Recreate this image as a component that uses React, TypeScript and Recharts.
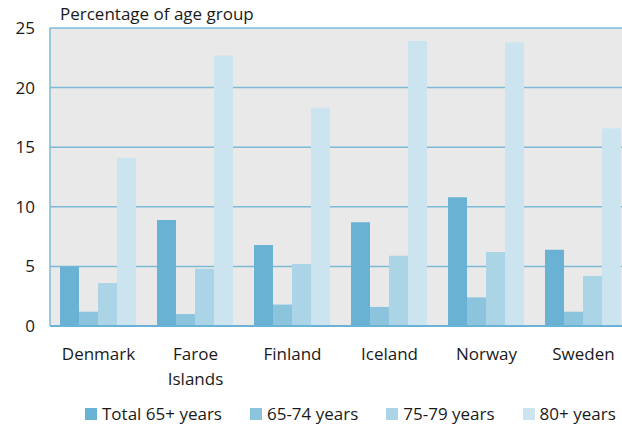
import { BarChart, Bar, XAxis, YAxis, CartesianGrid, Legend } from "recharts";

const COUNTRIES = ["Denmark", "Faroe Islands", "Finland", "Iceland", "Norway", "Sweden"];
const TOTAL_65 = [5.0, 8.9, 6.8, 8.7, 10.8, 6.4];
const AGE_65_74 = [1.2, 1.0, 1.8, 1.6, 2.4, 1.2];
const AGE_75_79 = [3.6, 4.8, 5.2, 5.9, 6.2, 4.2];
const AGE_80 = [14.1, 22.7, 18.3, 23.9, 23.8, 16.6];
const Y_TICKS = [0, 5, 10, 15, 20, 25];

const SERIES = [
  { key: "total", name: "Total 65+ years", color: "#69b2d4" },
  { key: "a6574", name: "65-74 years", color: "#8cc4de" },
  { key: "a7579", name: "75-79 years", color: "#abd4e7" },
  { key: "a80", name: "80+ years", color: "#cce4f0" },
];

const data = COUNTRIES.map((country, i) => ({
  country,
  total: TOTAL_65[i],
  a6574: AGE_65_74[i],
  a7579: AGE_75_79[i],
  a80: AGE_80[i],
}));

const FONT = "'Open Sans', Roboto, sans-serif";
const SIZE = 17;
const TEXT = "#1a1a1a";
const BLUE = "#7dbad8";

function CountryTick({ x, y, payload }: any) {
  const lines = String(payload.value).split(" ");
  return (
    <text x={x} y={y} textAnchor="middle" fill={TEXT} fontSize={SIZE} fontFamily={FONT}>
      {lines.map((l, i) => (
        <tspan key={l} x={x} dy={i === 0 ? 34 : 25}>{l}</tspan>
      ))}
    </text>
  );
}

function LegendBox() {
  return (
    <div style={{ display: "flex", gap: 28, marginLeft: 85, fontFamily: FONT, fontSize: SIZE, color: TEXT, lineHeight: "20px" }}>
      {SERIES.map(s => (
        <div key={s.key} style={{ display: "flex", alignItems: "center" }}>
          <span style={{ width: 12, height: 12, background: s.color, marginRight: 5, display: "inline-block" }} />
          {s.name}
        </div>
      ))}
    </div>
  );
}

export default function App() {
  return (
    <div style={{ position: "absolute", left: 0, top: 0, width: 622, height: 424, overflow: "hidden", background: "#fff" }}>
      <div style={{ position: "absolute", left: 60, top: 4, fontFamily: FONT, fontSize: SIZE, lineHeight: "20px", color: TEXT }}>
        Percentage of age group
      </div>
      <BarChart width={640} height={424} data={data} margin={{ top: 28, right: 8, left: 0, bottom: 0 }}
        barCategoryGap={10} barGap={0}>
        <CartesianGrid vertical={false} fill="#e9e9e9" stroke={BLUE} strokeWidth={1.5} />
        <XAxis dataKey="country" height={78} tickLine={false} tickSize={0} tickMargin={0} interval={0}
          axisLine={{ stroke: "#6bb3d6", strokeWidth: 2 }} tick={<CountryTick />} />
        <YAxis width={50} domain={[0, 25]} ticks={Y_TICKS} tickLine={false} tickSize={0} tickMargin={15}
          axisLine={{ stroke: BLUE, strokeWidth: 1.5 }}
          tick={{ fill: TEXT, fontSize: SIZE, fontFamily: FONT }} />
        <Legend verticalAlign="bottom" content={<LegendBox />} />
        {SERIES.map(s => (
          <Bar key={s.key} dataKey={s.key} name={s.name} fill={s.color} isAnimationActive={false} />
        ))}
      </BarChart>
    </div>
  );
}
